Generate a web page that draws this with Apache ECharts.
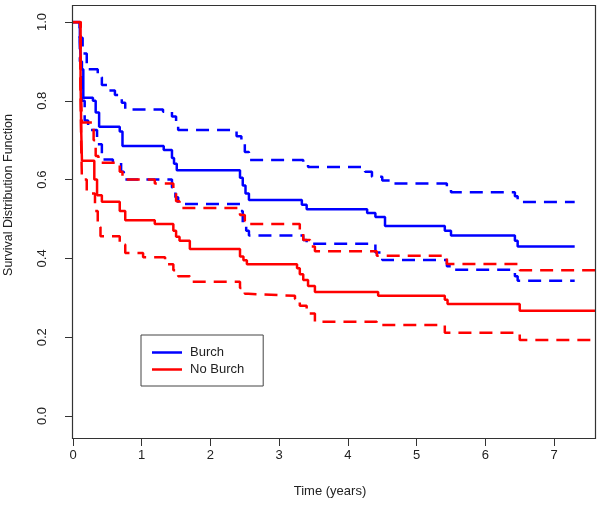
<!DOCTYPE html>
<html>
<head>
<meta charset="utf-8">
<script src="https://cdn.jsdelivr.net/npm/echarts@6/dist/echarts.min.js"></script>
<style>
html,body{margin:0;padding:0;background:#fff;}
#chart{width:601px;height:506px;}
</style>
</head>
<body>
<div id="chart"></div>
<script>
// ---- data ----
var xTicks = [0, 1, 2, 3, 4, 5, 6, 7];
var yTicks = ['0.0', '0.2', '0.4', '0.6', '0.8', '1.0'];
var legendNames = ['Burch', 'No Burch'];

// Burch (blue) Kaplan-Meier estimate
var burchT = [0, 0.1, 0.12, 0.15, 0.29, 0.33, 0.38, 0.68, 0.72, 1.32, 1.44, 1.47, 1.51, 2.43, 2.47, 2.51, 2.56, 3.33, 3.4, 4.28, 4.4, 4.54, 5.41, 5.5, 6.43, 6.47, 7.3];
var burchS = [1.0, 0.95, 0.88, 0.808, 0.8, 0.77, 0.734, 0.722, 0.685, 0.675, 0.655, 0.64, 0.624, 0.605, 0.585, 0.565, 0.548, 0.536, 0.525, 0.515, 0.505, 0.482, 0.47, 0.458, 0.445, 0.43, 0.43];
// Burch upper confidence limit
var burchUpT = [0, 0.1, 0.14, 0.2, 0.36, 0.42, 0.5, 0.61, 0.71, 0.76, 1.31, 1.44, 1.5, 1.53, 2.38, 2.45, 2.5, 2.56, 3.35, 3.42, 4.25, 4.35, 4.5, 4.65, 5.44, 5.5, 6.43, 6.47, 7.3];
var burchUp = [1.0, 0.96, 0.92, 0.88, 0.86, 0.84, 0.826, 0.815, 0.795, 0.778, 0.772, 0.76, 0.74, 0.726, 0.71, 0.69, 0.67, 0.65, 0.642, 0.632, 0.62, 0.607, 0.598, 0.59, 0.578, 0.568, 0.558, 0.543, 0.543];
// Burch lower confidence limit
var burchLoT = [0, 0.1, 0.13, 0.17, 0.22, 0.35, 0.42, 0.58, 0.7, 0.74, 1.44, 1.49, 1.53, 2.43, 2.47, 2.52, 2.56, 3.35, 3.4, 4.4, 4.5, 5.44, 5.5, 6.43, 6.47, 7.3];
var burchLo = [1.0, 0.9, 0.8, 0.75, 0.726, 0.69, 0.651, 0.645, 0.62, 0.6, 0.58, 0.555, 0.538, 0.52, 0.49, 0.47, 0.458, 0.447, 0.437, 0.415, 0.396, 0.38, 0.371, 0.355, 0.343, 0.343];

// No Burch (red) Kaplan-Meier estimate
var noBurchT = [0, 0.11, 0.12, 0.13, 0.31, 0.35, 0.42, 0.68, 0.76, 1.19, 1.46, 1.5, 1.55, 1.7, 2.43, 2.48, 2.53, 3.26, 3.3, 3.35, 3.42, 3.52, 4.44, 5.41, 5.45, 6.5, 7.61];
var noBurchS = [1.0, 0.85, 0.72, 0.648, 0.6, 0.56, 0.544, 0.52, 0.497, 0.487, 0.47, 0.455, 0.445, 0.424, 0.405, 0.395, 0.385, 0.375, 0.36, 0.345, 0.33, 0.315, 0.305, 0.295, 0.284, 0.267, 0.267];
// No Burch upper confidence limit
var noBurchUpT = [0, 0.11, 0.13, 0.3, 0.33, 0.37, 0.68, 0.72, 1.19, 1.46, 1.5, 1.55, 2.43, 2.5, 2.55, 3.3, 3.35, 3.45, 3.52, 4.42, 5.44, 6.5, 7.61];
var noBurchUp = [1.0, 0.85, 0.745, 0.7, 0.66, 0.643, 0.62, 0.6, 0.59, 0.57, 0.545, 0.528, 0.51, 0.495, 0.487, 0.465, 0.447, 0.43, 0.418, 0.407, 0.386, 0.37, 0.37];
// No Burch lower confidence limit
var noBurchLoT = [0, 0.11, 0.12, 0.13, 0.2, 0.32, 0.36, 0.4, 0.68, 0.76, 1.02, 1.34, 1.46, 1.53, 1.7, 2.43, 2.5, 2.55, 3.23, 3.3, 3.4, 3.52, 4.42, 5.41, 6.5, 7.61];
var noBurchLo = [1.0, 0.82, 0.68, 0.6, 0.565, 0.52, 0.48, 0.456, 0.435, 0.414, 0.403, 0.385, 0.37, 0.355, 0.341, 0.325, 0.31, 0.305, 0.297, 0.28, 0.26, 0.239, 0.231, 0.211, 0.193, 0.193];

function pairs(t, v) {
  var out = [];
  for (var i = 0; i < t.length; i++) out.push([t[i], v[i]]);
  return out;
}

var BLUE = '#0000FF', RED = '#FF0000';
var FONT = '"Liberation Sans", Arial, sans-serif';
var dash = [13, 8];
var X_MAX = 7.61;

function stepSeries(name, data, color, dashed) {
  return {
    name: name,
    type: 'line',
    step: 'end',
    data: data,
    symbol: 'none',
    silent: true,
    xAxisIndex: 0,
    yAxisIndex: 0,
    lineStyle: { color: color, width: 2.5, type: dashed ? dash : 'solid' },
    itemStyle: { color: color }
  };
}

var chart = echarts.init(document.getElementById('chart'), null, { renderer: 'canvas' });
chart.setOption({
  animation: false,
  backgroundColor: '#fff',
  grid: [
    { left: 73, right: 5, top: 22, bottom: 90, containLabel: false },
    { left: 73, right: 5, top: 438, height: 1, containLabel: false }
  ],
  xAxis: [
    { type: 'value', gridIndex: 0, min: 0, max: X_MAX, show: false, splitLine: { show: false } },
    {
      type: 'value', gridIndex: 1, min: 0, max: X_MAX, interval: 1,
      axisLine: { show: false },
      axisTick: { show: true, inside: false, length: 7, lineStyle: { color: '#333', width: 1 } },
      axisLabel: {
        margin: 10, color: '#222', fontSize: 13, fontFamily: FONT,
        showMaxLabel: false,
        formatter: function (v) { return xTicks.indexOf(v) >= 0 ? String(v) : ''; }
      },
      splitLine: { show: false }
    }
  ],
  yAxis: [
    {
      type: 'value', gridIndex: 0, min: 0, max: 1, interval: 0.2,
      axisLine: { show: false },
      axisTick: { show: true, length: 8, lineStyle: { color: '#333', width: 1 } },
      axisLabel: {
        rotate: 90, margin: 24, color: '#222', fontSize: 13, fontFamily: FONT,
        formatter: function (v) { return yTicks[Math.round(v / 0.2)]; }
      },
      splitLine: { show: false }
    },
    { type: 'value', gridIndex: 1, min: 0, max: 1, show: false }
  ],
  legend: {
    data: legendNames,
    orient: 'vertical',
    left: 141,
    top: 335,
    padding: [11, 19, 10, 11],
    itemGap: 4,
    itemWidth: 30,
    itemHeight: 14,
    icon: 'path://M0,0L30,0L30,2.5L0,2.5Z',
    borderColor: '#444',
    borderWidth: 1,
    textStyle: { color: '#222', fontSize: 13, fontFamily: FONT, padding: [0, 0, 0, 3] }
  },
  graphic: [
    { type: 'rect', silent: true, z: 100,
      shape: { x: 72.5, y: 5.5, width: 523, height: 433 },
      style: { fill: null, stroke: '#333', lineWidth: 1.2 } },
    { type: 'text', silent: true, x: 330, y: 491,
      style: { text: 'Time (years)', font: '13px ' + FONT, fill: '#222',
               textAlign: 'center', textVerticalAlign: 'middle' } },
    { type: 'text', silent: true, rotation: Math.PI / 2, x: 9, y: 195,
      style: { text: 'Survival Distribution Function', font: '12.5px ' + FONT, fill: '#222',
               textAlign: 'center', textVerticalAlign: 'middle' } }
  ],
  series: [
    stepSeries('Burch', pairs(burchT, burchS), BLUE, false),
    stepSeries('Burch upper', pairs(burchUpT, burchUp), BLUE, true),
    stepSeries('Burch lower', pairs(burchLoT, burchLo), BLUE, true),
    stepSeries('No Burch', pairs(noBurchT, noBurchS), RED, false),
    stepSeries('No Burch upper', pairs(noBurchUpT, noBurchUp), RED, true),
    stepSeries('No Burch lower', pairs(noBurchLoT, noBurchLo), RED, true)
  ]
});
</script>
</body>
</html>
